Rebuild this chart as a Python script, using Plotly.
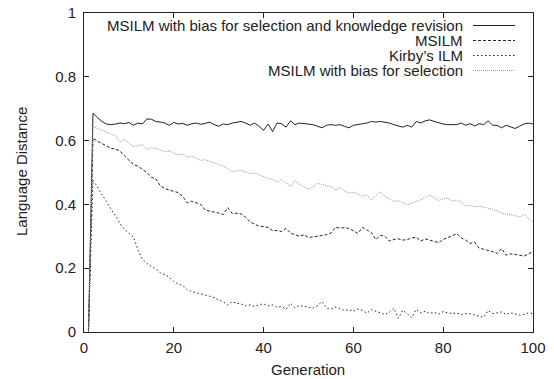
import plotly.graph_objects as go

generations = list(range(1, 101))

msilm_bias_revision = [
    0.0, 0.686, 0.672, 0.660, 0.652, 0.650, 0.652, 0.655, 0.653, 0.657,
    0.648, 0.655, 0.652, 0.668, 0.667, 0.660, 0.658, 0.655, 0.648, 0.657,
    0.652, 0.654, 0.648, 0.653, 0.655, 0.651, 0.654, 0.658, 0.650, 0.645,
    0.652, 0.650, 0.655, 0.658, 0.660, 0.655, 0.648, 0.655, 0.645, 0.632,
    0.652, 0.628, 0.655, 0.653, 0.642, 0.662, 0.650, 0.655, 0.653, 0.652,
    0.650, 0.645, 0.640, 0.648, 0.650, 0.648, 0.650, 0.645, 0.640, 0.648,
    0.650, 0.653, 0.655, 0.660, 0.658, 0.660, 0.658, 0.655, 0.650, 0.645,
    0.642, 0.648, 0.642, 0.660, 0.655, 0.662, 0.665, 0.660, 0.655, 0.652,
    0.650, 0.650, 0.650, 0.655, 0.648, 0.653, 0.646, 0.653, 0.650, 0.662,
    0.648, 0.648, 0.640, 0.648, 0.642, 0.638, 0.645, 0.652, 0.655, 0.652,
]

msilm = [
    0.0, 0.608, 0.598, 0.590, 0.582, 0.576, 0.573, 0.568, 0.552, 0.537,
    0.525, 0.520, 0.510, 0.500, 0.485, 0.480, 0.458, 0.450, 0.445, 0.440,
    0.437, 0.425, 0.405, 0.410, 0.405, 0.400, 0.382, 0.378, 0.376, 0.373,
    0.368, 0.390, 0.372, 0.372, 0.370, 0.360, 0.345, 0.338, 0.332, 0.330,
    0.328, 0.318, 0.318, 0.315, 0.325, 0.310, 0.305, 0.300, 0.305, 0.296,
    0.298, 0.300, 0.302, 0.305, 0.310, 0.328, 0.326, 0.327, 0.325, 0.318,
    0.309, 0.328, 0.320, 0.312, 0.290, 0.303, 0.300, 0.285, 0.290, 0.292,
    0.288, 0.290, 0.295, 0.297, 0.285, 0.292, 0.288, 0.284, 0.280, 0.290,
    0.296, 0.302, 0.308, 0.295, 0.288, 0.278, 0.281, 0.263, 0.260, 0.255,
    0.252, 0.246, 0.262, 0.241, 0.245, 0.243, 0.240, 0.238, 0.245, 0.252,
]

kirby_ilm = [
    0.0, 0.476, 0.455, 0.430, 0.410, 0.385, 0.365, 0.340, 0.322, 0.310,
    0.298, 0.258, 0.228, 0.215, 0.205, 0.198, 0.185, 0.180, 0.172, 0.158,
    0.150, 0.146, 0.132, 0.127, 0.124, 0.121, 0.116, 0.112, 0.108, 0.100,
    0.095, 0.085, 0.095, 0.090, 0.088, 0.082, 0.085, 0.080, 0.086, 0.088,
    0.082, 0.085, 0.078, 0.080, 0.071, 0.090, 0.076, 0.083, 0.080, 0.078,
    0.075, 0.083, 0.095, 0.075, 0.072, 0.078, 0.074, 0.067, 0.070, 0.065,
    0.072, 0.068, 0.059, 0.070, 0.064, 0.060, 0.055, 0.062, 0.075, 0.043,
    0.068, 0.058, 0.045, 0.071, 0.060, 0.065, 0.058, 0.062, 0.056, 0.064,
    0.060, 0.058, 0.060, 0.055, 0.058, 0.057, 0.053, 0.050, 0.046, 0.067,
    0.058, 0.060, 0.063, 0.055, 0.060, 0.057, 0.053, 0.055, 0.060, 0.058,
]

msilm_bias = [
    0.0, 0.645, 0.638, 0.632, 0.627, 0.622, 0.615, 0.596, 0.603, 0.592,
    0.582, 0.584, 0.587, 0.572, 0.578, 0.575, 0.570, 0.565, 0.568, 0.560,
    0.556, 0.558, 0.548, 0.550, 0.545, 0.538, 0.540, 0.535, 0.528, 0.523,
    0.520, 0.512, 0.503, 0.505, 0.507, 0.502, 0.496, 0.498, 0.492, 0.488,
    0.482, 0.478, 0.470, 0.478, 0.468, 0.456, 0.475, 0.463, 0.455, 0.447,
    0.455, 0.466, 0.463, 0.458, 0.456, 0.445, 0.452, 0.442, 0.436, 0.438,
    0.433, 0.425, 0.430, 0.414, 0.428, 0.440, 0.425, 0.418, 0.409, 0.412,
    0.405, 0.398, 0.405, 0.410, 0.414, 0.422, 0.430, 0.420, 0.412, 0.418,
    0.419, 0.410, 0.414, 0.408, 0.395, 0.398, 0.392, 0.394, 0.392, 0.388,
    0.384, 0.380, 0.372, 0.370, 0.367, 0.365, 0.360, 0.369, 0.355, 0.345,
]

series_names = [
    "MSILM with bias for selection and knowledge revision",
    "MSILM",
    "Kirby\u2019s ILM",
    "MSILM with bias for selection",
]
x_ticks = [0, 20, 40, 60, 80, 100]
y_ticks = [0, 0.2, 0.4, 0.6, 0.8, 1]
y_tick_text = ["0", "0.2", "0.4", "0.6", "0.8", "1"]

series = [msilm_bias_revision, msilm, kirby_ilm, msilm_bias]
colors = ["#222222", "#222222", "#222222", "#999999"]
dashes = ["solid", "3px,2px", "1.5px,2.5px", "1px,1px"]

fig = go.Figure()
for name, ys, c, d in zip(series_names, series, colors, dashes):
    fig.add_trace(go.Scatter(
        x=generations, y=ys, mode="lines", name=name,
        line=dict(color=c, width=1, dash=d), showlegend=False,
    ))

font_family = "Liberation Sans, Arial, sans-serif"
FS = 15

W, H = 554, 379
L, R, T, B = 84, 533, 13, 332   # plot frame in page pixels

def px_x(p):
    return (p - L) / (R - L)

def px_y(p):
    return (B - p) / (B - T)

# gnuplot-style key: right-aligned text, sample line to its right
row_y = [25.5, 40.5, 55.5, 70.5]
for name, c, d, yp in zip(series_names, colors, dashes, row_y):
    fig.add_annotation(
        xref="paper", yref="paper", x=px_x(464), y=px_y(yp),
        text=name, showarrow=False, xanchor="right", yanchor="middle",
        font=dict(size=FS, color="#222222", family=font_family),
        borderpad=0,
    )
    fig.add_shape(
        type="line", xref="paper", yref="paper",
        x0=px_x(473), x1=px_x(515), y0=px_y(yp), y1=px_y(yp),
        line=dict(color=c, width=1, dash=d),
    )

# axis titles
fig.add_annotation(
    xref="paper", yref="paper", x=px_x(308), y=px_y(369),
    text="Generation", showarrow=False, xanchor="center", yanchor="middle",
    font=dict(size=FS, color="#222222", family=font_family),
)
fig.add_annotation(
    xref="paper", yref="paper", x=px_x(21), y=px_y(172),
    text="Language Distance", showarrow=False, xanchor="center", yanchor="middle",
    textangle=-90, font=dict(size=FS, color="#222222", family=font_family),
)

axis_common = dict(
    showgrid=False, zeroline=False, showline=True, linecolor="#222222",
    linewidth=1, mirror="ticks", ticks="inside", ticklen=5,
    tickcolor="#222222", tickwidth=1, automargin=False,
    ticklabeloverflow="allow",
    tickfont=dict(size=FS, color="#222222", family=font_family),
)

fig.update_layout(
    width=W, height=H,
    margin=dict(l=L, r=W - R, t=T, b=H - B),
    paper_bgcolor="white", plot_bgcolor="white",
    font=dict(family=font_family, color="#222222"),
    xaxis=dict(range=[0, 100], tickvals=x_ticks, ticklabelstandoff=2, **axis_common),
    yaxis=dict(range=[0, 1], tickvals=y_ticks, ticktext=y_tick_text,
               ticklabelstandoff=4, **axis_common),
)

fig.write_html(
    "out.html",
    config={"displayModeBar": False},
    post_script="document.body.style.margin='0px';document.body.style.overflow='hidden';",
)
